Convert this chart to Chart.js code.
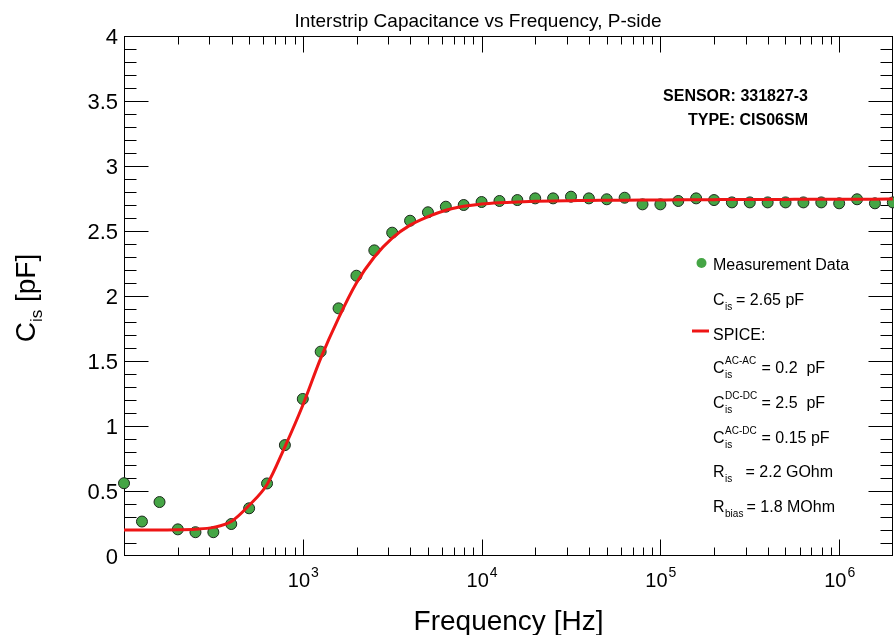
<!DOCTYPE html>
<html lang="en">
<head>
<meta charset="UTF-8">
<title>Interstrip Capacitance vs Frequency, P-side</title>
<script src="https://cdn.jsdelivr.net/npm/chart.js"></script>
<style>
  body { margin: 0; background: #fff; }
  #chart { display: block; }
</style>
</head>
<body>
<canvas id="chart" width="894" height="635"></canvas>
<script>
// measurement frequencies [Hz], 10 points per decade
const freqHz = [100, 126, 158, 200, 251, 316, 398, 501, 631, 794,
  1000, 1259, 1585, 1995, 2512, 3162, 3981, 5012, 6310, 7943,
  10000, 12589, 15849, 19953, 25119, 31623, 39811, 50119, 63096, 79433,
  100000, 125893, 158489, 199526, 251189, 316228, 398107, 501187, 630957, 794328,
  1000000, 1258925, 1584893, 1995262];

// measured interstrip capacitance [pF]
const measuredPf = [0.56, 0.265, 0.415, 0.205, 0.183, 0.183, 0.246, 0.367, 0.558, 0.853,
  1.208, 1.572, 1.905, 2.156, 2.351, 2.487, 2.579, 2.644, 2.687, 2.70,
  2.723, 2.731, 2.738, 2.751, 2.751, 2.764, 2.751, 2.744, 2.756, 2.705,
  2.705, 2.731, 2.751, 2.738, 2.72, 2.72, 2.72, 2.72, 2.72, 2.72,
  2.713, 2.744, 2.713, 2.72];

// SPICE model curve [pF]
const spicePf = [0.200, 0.200, 0.200, 0.202, 0.206, 0.22, 0.265, 0.39, 0.55, 0.84,
  1.16, 1.52, 1.83, 2.10, 2.30, 2.445, 2.545, 2.61, 2.66, 2.69,
  2.708, 2.718, 2.724, 2.728, 2.731, 2.733, 2.735, 2.736, 2.737, 2.738,
  2.739, 2.740, 2.740, 2.741, 2.742, 2.742, 2.743, 2.743, 2.744, 2.744,
  2.745, 2.745, 2.745, 2.746];

const yTickLabels = ['0', '0.5', '1', '1.5', '2', '2.5', '3', '3.5', '4'];
const xTickExponents = [3, 4, 5, 6];
const sensorLines = ['SENSOR: 331827-3', 'TYPE: CIS06SM'];

const FONT = "'Liberation Sans', Arial, Helvetica, sans-serif";

function font(size, bold) {
  return (bold ? 'bold ' : '') + size + 'px ' + FONT;
}

// symbol with optional super/subscript, then the rest of the line
function drawSymbol(ctx, x, base, sym, sup, sub, restX, rest) {
  ctx.font = font(16);
  ctx.fillText(sym, x, base);
  const sx = x + ctx.measureText(sym).width + 0.5;
  ctx.font = font(10);
  if (sup) ctx.fillText(sup, sx, base - 9);
  if (sub) ctx.fillText(sub, sx, base + 5);
  ctx.font = font(16);
  ctx.fillText(rest, restX, base);
}

const decorations = {
  id: 'decorations',
  beforeDatasetsDraw(chart) {
    const { ctx, chartArea: a, scales: { x, y } } = chart;
    const L = Math.round(a.left) + 0.5, R = Math.round(a.right) - 0.5;
    const T = Math.round(a.top) + 0.5, B = Math.round(a.bottom) - 0.5;
    ctx.save();
    ctx.strokeStyle = '#000';
    ctx.lineWidth = 1;
    ctx.strokeRect(L, T, R - L, B - T);

    ctx.beginPath();
    // y ticks, left and right
    for (let i = 1; i < 40; i++) {
      const py = Math.round(y.getPixelForValue(i / 10)) + 0.5;
      const len = i % 5 === 0 ? 24 : 12;
      ctx.moveTo(L, py); ctx.lineTo(L + len, py);
      ctx.moveTo(R, py); ctx.lineTo(R - len, py);
    }
    // x ticks, bottom and top
    for (let d = 100; d <= 1e6; d *= 10) {
      for (let m = 1; m <= 9; m++) {
        const v = d * m;
        if (v <= x.min || v >= x.max) continue;
        const px = Math.round(x.getPixelForValue(v)) + 0.5;
        const len = m === 1 ? 16 : 8;
        ctx.moveTo(px, B); ctx.lineTo(px, B - len);
        ctx.moveTo(px, T); ctx.lineTo(px, T + len);
      }
    }
    ctx.stroke();
    ctx.restore();
  },
  afterDraw(chart) {
    const { ctx, chartArea: a, scales: { x, y } } = chart;
    ctx.save();
    ctx.fillStyle = '#000';

    // title
    ctx.font = font(19);
    ctx.textAlign = 'center';
    ctx.fillText('Interstrip Capacitance vs Frequency, P-side', 478, 27);

    // y tick labels
    ctx.font = font(22);
    ctx.textAlign = 'right';
    yTickLabels.forEach(lbl => {
      ctx.fillText(lbl, 118, y.getPixelForValue(parseFloat(lbl)) + 8);
    });

    // x tick labels: 10^n
    ctx.textAlign = 'left';
    xTickExponents.forEach(e => {
      const px = x.getPixelForValue(Math.pow(10, e));
      ctx.font = font(20);
      const w1 = ctx.measureText('10').width;
      ctx.font = font(14);
      const w2 = ctx.measureText(String(e)).width;
      const x0 = px - (w1 + w2) / 2;
      ctx.font = font(20);
      ctx.fillText('10', x0, 587);
      ctx.font = font(14);
      ctx.fillText(String(e), x0 + w1 + 1, 577);
    });

    // x axis title
    ctx.font = font(28);
    ctx.textAlign = 'center';
    ctx.fillText('Frequency [Hz]', (a.left + a.right) / 2, 630);

    // y axis title, rotated
    ctx.save();
    ctx.translate(35, 298);
    ctx.rotate(-Math.PI / 2);
    ctx.textAlign = 'left';
    ctx.font = font(28);
    const wC = ctx.measureText('C').width;
    const wU = ctx.measureText(' [pF]').width;
    ctx.font = font(17);
    const wS = ctx.measureText('is').width;
    let tx = -(wC + wS + wU) / 2;
    ctx.font = font(28);
    ctx.fillText('C', tx, 0);
    ctx.font = font(17);
    ctx.fillText('is', tx + wC, 7);
    ctx.font = font(28);
    ctx.fillText(' [pF]', tx + wC + wS, 0);
    ctx.restore();

    // sensor info
    ctx.font = font(16, true);
    ctx.textAlign = 'right';
    ctx.fillText(sensorLines[0], 808, 101);
    ctx.fillText(sensorLines[1], 808, 125);

    // legend
    ctx.textAlign = 'left';
    ctx.fillStyle = '#45a545';
    ctx.beginPath();
    ctx.arc(701.5, 263, 5, 0, Math.PI * 2);
    ctx.fill();
    ctx.fillStyle = '#000';
    ctx.font = font(16);
    ctx.fillText('Measurement Data', 713, 270);

    drawSymbol(ctx, 713, 305, 'C', null, 'is', 736, '= 2.65 pF');

    ctx.strokeStyle = '#ee1515';
    ctx.lineWidth = 3;
    ctx.beginPath();
    ctx.moveTo(692, 331); ctx.lineTo(709, 331);
    ctx.stroke();
    ctx.font = font(16);
    ctx.fillText('SPICE:', 713, 340);

    drawSymbol(ctx, 713, 373, 'C', 'AC-AC', 'is', 761.5, '= 0.2  pF');
    drawSymbol(ctx, 713, 408, 'C', 'DC-DC', 'is', 761.5, '= 2.5  pF');
    drawSymbol(ctx, 713, 443, 'C', 'AC-DC', 'is', 761.5, '= 0.15 pF');
    drawSymbol(ctx, 713, 477, 'R', null, 'is', 745.5, '= 2.2 GOhm');
    drawSymbol(ctx, 713, 512, 'R', null, 'bias', 746.5, '= 1.8 MOhm');

    ctx.restore();
  }
};

const ctx = document.getElementById('chart').getContext('2d');

const chart = new Chart(ctx, {
  type: 'scatter',
  data: {
    datasets: [{
      label: 'SPICE',
      data: freqHz.map((f, i) => ({ x: f, y: spicePf[i] })),
      showLine: true,
      borderColor: '#ee1515',
      borderWidth: 3,
      pointRadius: 0,
      cubicInterpolationMode: 'monotone',
      order: 0
    }, {
      label: 'Measurement Data',
      data: freqHz.map((f, i) => ({ x: f, y: measuredPf[i] })),
      pointRadius: 5.5,
      backgroundColor: '#45a545',
      borderColor: '#1c2a1c',
      borderWidth: 1,
      clip: false,
      order: 1
    }]
  },
  options: {
    responsive: false,
    animation: false,
    devicePixelRatio: 1,
    layout: { autoPadding: false, padding: { left: 124, top: 36, right: 1, bottom: 79 } },
    plugins: {
      legend: { display: false },
      tooltip: { enabled: false },
      title: { display: false }
    },
    scales: {
      x: { type: 'logarithmic', min: 100, max: 2e6, display: false },
      y: { type: 'linear', min: 0, max: 4, display: false }
    }
  },
  plugins: [decorations]
});
</script>
</body>
</html>
